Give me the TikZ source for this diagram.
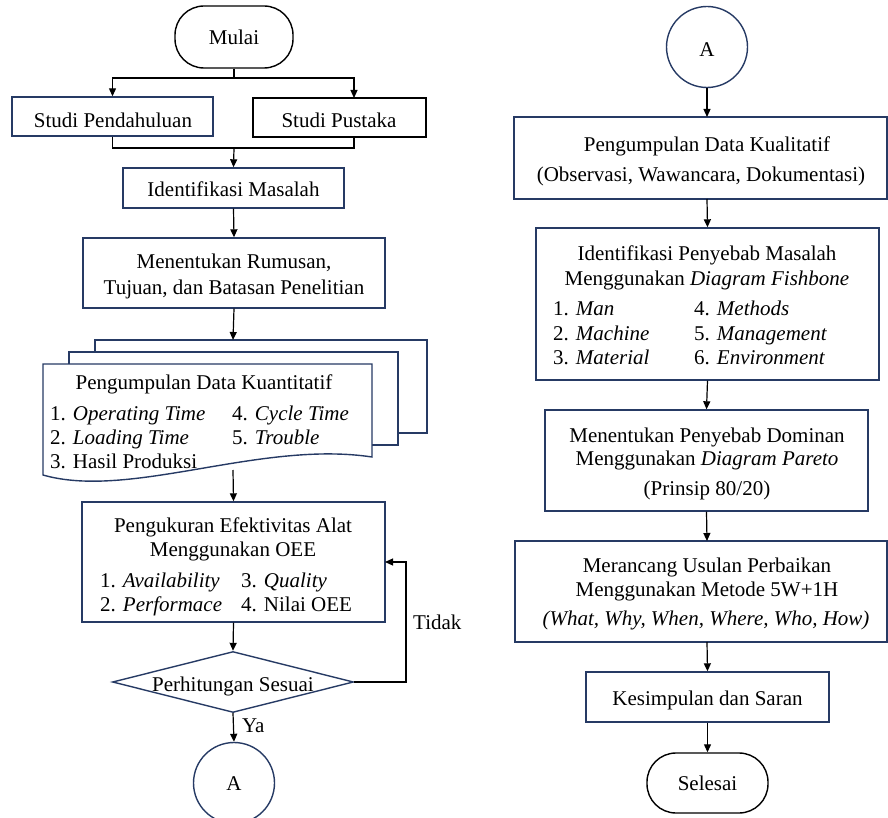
\documentclass[tikz,border=0pt]{standalone}
\usepackage{fontspec}
\setmainfont{Liberation Serif}
\usetikzlibrary{arrows.meta,shapes.geometric}
\definecolor{navy}{RGB}{38,58,100}
\begin{document}
\begin{tikzpicture}[x=1pt,y=-1pt,
  font=\fontsize{21}{24.5}\selectfont,
  boxst/.style={draw=navy,line width=1.4pt,inner sep=0pt,rectangle},
  blackbox/.style={draw=black,line width=1.4pt,inner sep=0pt,rectangle},
  termst/.style={draw=black,line width=1.4pt,inner sep=0pt,rectangle,rounded corners=29pt},
  connst/.style={draw=navy,line width=1.4pt,inner sep=0pt,circle,minimum size=81pt},
  decst/.style={draw=navy,line width=1.4pt,inner sep=0pt,diamond,minimum width=241pt,minimum height=61pt},
  txt/.style={anchor=base,inner sep=0pt},
  txl/.style={anchor=base west,inner sep=0pt},
  arr/.style={line width=1.2pt,-{Triangle[length=8pt,width=7pt]}},
  ln/.style={line width=1.2pt}
]
\useasboundingbox (0,0) rectangle (888,818);

% ---------- left column ----------
\node[termst,minimum width=118pt,minimum height=62pt] (mulai) at (234,37) {};
\node[txt] (tmulai) at (234,45) {Mulai};

\node[boxst,minimum width=201pt,minimum height=39pt] (sp) at (112.5,116.5) {};
\node[txt] (tsp) at (113,128) {Studi Pendahuluan};
\node[blackbox,minimum width=173pt,minimum height=39pt] (spk) at (339.5,117.5) {};
\node[txt] (tspk) at (339,128) {Studi Pustaka};
\coordinate (spkin) at (354,98);
\coordinate (spkout) at (354,137);

\node[boxst,minimum width=221pt,minimum height=40pt] (idm) at (233.5,188) {};
\node[txt] (tidm) at (233.5,197) {Identifikasi Masalah};

\node[boxst,minimum width=302pt,minimum height=70pt] (rum) at (234,273) {};
\node[txt] (trum1) at (234,269) {Menentukan Rumusan,};
\node[txt] (trum2) at (234,294) {Tujuan, dan Batasan Penelitian};

% multi-document
\node[boxst,fill=white,minimum width=332pt,minimum height=93pt] (doc3) at (261,386.5) {};
\node[boxst,fill=white,minimum width=329pt,minimum height=93pt] (doc2) at (233.5,398.5) {};
\draw[draw=navy,line width=1.4pt,fill=white] (43,364) -- (372,364) -- (372,457)
  .. controls (260,440) and (130,500) .. (43,475) -- cycle;
\coordinate (docin) at (233,340);
\coordinate (docout) at (233,470);
\node[txt] (tkuan) at (204,389) {Pengumpulan Data Kuantitatif};
\node[txl] (k1) at (50,420) {1. \textit{Operating Time}};
\node[txl] (k2) at (50,444) {2. \textit{Loading Time}};
\node[txl] (k3) at (50,468) {3. Hasil Produksi};
\node[txl] (k4) at (232,420) {4. \textit{Cycle Time}};
\node[txl] (k5) at (232,444) {5. \textit{Trouble}};

\node[boxst,minimum width=303pt,minimum height=120pt] (oee) at (233.5,562) {};
\node[txt] (toee1) at (233,532) {Pengukuran Efektivitas Alat};
\node[txt] (toee2) at (233,556) {Menggunakan OEE};
\node[txl] (o1) at (100,587) {1. \textit{Availability}};
\node[txl] (o2) at (100,611) {2. \textit{Performace}};
\node[txl] (o3) at (241,587) {3. \textit{Quality}};
\node[txl] (o4) at (241,611) {4. Nilai OEE};
\coordinate (oeein) at (385,562);

\node[decst] (dec) at (233,682) {};
\node[txt] (tdec) at (233,691) {Perhitungan Sesuai};

\node[connst] (ca) at (234,783) {};
\node[txt] (tca) at (234,790) {A};

\coordinate (split) at (234,78);
\coordinate (merge) at (234,148);
\draw[ln] (mulai.south) -- (split);
\draw[arr] (split) -| (sp.north);
\draw[arr] (split) -| (spkin);
\draw[ln] (sp.south) |- (merge) -| (spkout);
\draw[arr] (merge) -- (idm.north);
\draw[arr] (idm.south) -- (rum.north);
\draw[arr] (rum.south) -- (docin);
\draw[arr] (docout) -- (oee.north);
\draw[arr] (oee.south) -- (dec.north);
\draw[arr] (dec.south) -- node[right,inner sep=0pt,xshift=8pt,yshift=2pt] (ya) {Ya} (ca.north);
\draw[arr] (dec.east) -- (406,682) -- (406,562) -- (oeein);
\node[txl] (tidak) at (413,629) {Tidak};

% ---------- right column ----------
\node[connst] (cb) at (707,47) {};
\node[txt] (tcb) at (707,57) {A};

\node[boxst,minimum width=373pt,minimum height=82pt] (kual) at (700.5,158) {};
\node[txt] (tkual1) at (707,152) {Pengumpulan Data Kualitatif};
\node[txt] (tkual2) at (701,182) {(Observasi, Wawancara, Dokumentasi)};

\node[boxst,minimum width=343pt,minimum height=152pt] (fish) at (707.5,304) {};
\node[txt] (tf1) at (707,260) {Identifikasi Penyebab Masalah};
\node[txt] (tf2) at (707,285) {Menggunakan \textit{Diagram Fishbone}};
\node[txl] (f1) at (553,315) {1. \textit{Man}};
\node[txl] (f2) at (553,340) {2. \textit{Machine}};
\node[txl] (f3) at (553,364) {3. \textit{Material}};
\node[txl] (f4) at (694,315) {4. \textit{Methods}};
\node[txl] (f5) at (694,340) {5. \textit{Management}};
\node[txl] (f6) at (694,364) {6. \textit{Environment}};

\node[boxst,minimum width=323pt,minimum height=101pt] (par) at (706.5,460.5) {};
\node[txt] (tp1) at (707,442) {Menentukan Penyebab Dominan};
\node[txt] (tp2) at (707,465) {Menggunakan \textit{Diagram Pareto}};
\node[txt] (tp3) at (707,495) {(Prinsip 80/20)};

\node[boxst,minimum width=372pt,minimum height=101pt] (usul) at (701,591.5) {};
\node[txt] (tu1) at (707,572) {Merancang Usulan Perbaikan};
\node[txt] (tu2) at (707,596) {Menggunakan Metode 5W+1H};
\node[txt] (tu3) at (706,625) {\textit{(What, Why, When, Where, Who, How)}};

\node[boxst,minimum width=243pt,minimum height=50pt] (kes) at (707.5,697) {};
\node[txt] (tkes) at (707.5,705) {Kesimpulan dan Saran};

\node[termst,minimum width=121pt,minimum height=60pt] (sel) at (707.5,783) {};
\node[txt] (tsel) at (707.5,790) {Selesai};

\coordinate (kualin) at (707,117);
\coordinate (kualout) at (707,199);
\coordinate (usulin) at (707,541);
\coordinate (usulout) at (707,642);
\draw[arr] (cb.south) -- (kualin);
\draw[arr] (kualout) -- (fish.north);
\draw[arr] (fish.south) -- (par.north);
\draw[arr] (par.south) -- (usulin);
\draw[arr] (usulout) -- (kes.north);
\draw[arr] (kes.south) -- (sel.north);
\end{tikzpicture}
\end{document}
